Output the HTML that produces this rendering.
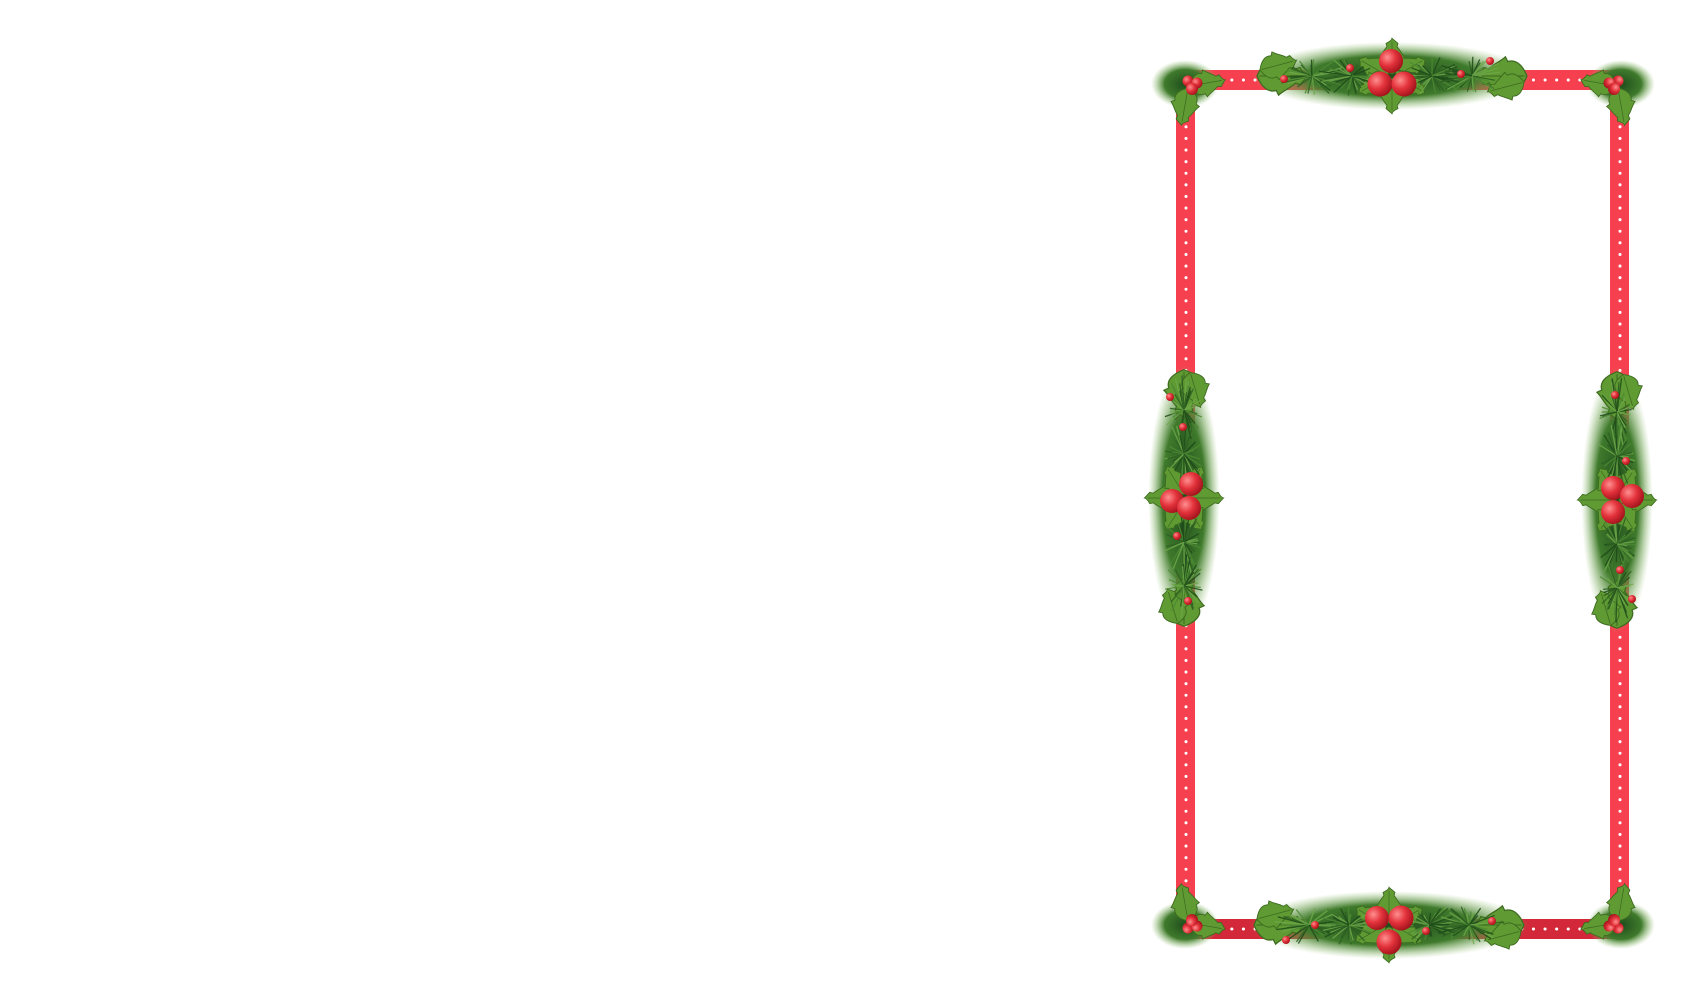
<!DOCTYPE html>
<html><head><meta charset="utf-8"><style>html,body{margin:0;padding:0;background:#fff;width:1700px;height:1000px;overflow:hidden}</style></head>
<body>
<svg id="s" width="1700" height="1000" viewBox="0 0 1700 1000" xmlns="http://www.w3.org/2000/svg">
<defs>
<radialGradient id="b" cx="0.35" cy="0.35" r="0.7"><stop offset="0" stop-color="#ff8f8f"/><stop offset="0.5" stop-color="#e3323b"/><stop offset="1" stop-color="#a0121b"/></radialGradient>
<radialGradient id="g" cx="0.5" cy="0.5" r="0.5"><stop offset="0" stop-color="#1f4d1c"/><stop offset="0.6" stop-color="#3f7a2c"/><stop offset="1" stop-color="#8fbf6a" stop-opacity="0"/></radialGradient>
<g id="leaf"><path d="M0,0 C4,-10 10,-14 16,-12 L18,-16 C22,-12 28,-10 32,-6 L36,-7 C38,-3 40,0 42,0 C40,2 38,5 36,7 L32,6 C28,10 22,12 18,16 L16,12 C10,14 4,10 0,0Z" fill="#5f9a33" stroke="#3d6a1f" stroke-width="1"/><path d="M2,0 L38,0" stroke="#3d6a1f" stroke-width="0.8"/></g>
<g id="hgar">
 <ellipse cx="0" cy="0" rx="140" ry="34" fill="url(#g)"/>
 <use href="#leaf" transform="translate(-135,0) scale(1.2)"/>
 <use href="#leaf" transform="translate(135,0) scale(-1.2,1.2)"/>
 <use href="#leaf" transform="translate(-132,-6) rotate(-15) scale(0.9)"/>
 <use href="#leaf" transform="translate(132,6) rotate(165) scale(0.9)"/>
 <use href="#leaf" transform="translate(0,-2) rotate(-90) scale(0.85)"/>
 <use href="#leaf" transform="translate(0,2) rotate(90) scale(0.85)"/>
 <use href="#leaf" transform="translate(-4,0) rotate(-150) scale(0.8)"/>
 <use href="#leaf" transform="translate(4,0) rotate(-30) scale(0.8)"/>
 <use href="#leaf" transform="translate(-4,0) rotate(150) scale(0.8)"/>
 <use href="#leaf" transform="translate(4,0) rotate(30) scale(0.8)"/>
</g>
<g id="corner">
 <ellipse cx="-5" cy="0" rx="34" ry="24" fill="url(#g)"/>
 <use href="#leaf" transform="translate(0,2) rotate(-10) scale(0.85)"/>
 <use href="#leaf" transform="translate(-2,4) rotate(100) scale(0.9)"/>
 <circle cx="-2" cy="-3" r="5.5" fill="url(#b)"/><circle cx="7" cy="-1" r="5.5" fill="url(#b)"/><circle cx="2" cy="5" r="6" fill="url(#b)"/>
</g>
</defs>
<g fill="#f6404f">
<rect x="1176" y="70" width="453" height="20"/>
<rect x="1176" y="70" width="19" height="869"/>
<rect x="1610" y="70" width="19" height="869"/>
<rect x="1176" y="919" width="453" height="20" fill="#d22839"/>
</g>
<g stroke="#fff" stroke-width="3" stroke-dasharray="0.1 11.5" stroke-linecap="round">
<line x1="1197" y1="80" x2="1608" y2="80"/>
<line x1="1197" y1="929" x2="1608" y2="929"/>
<line x1="1186" y1="92" x2="1186" y2="918"/>
<line x1="1620" y1="92" x2="1620" y2="918"/>
</g>
<use href="#hgar" transform="translate(1392,76)"/>
<use href="#hgar" transform="translate(1389,925)"/>
<use href="#hgar" transform="translate(1184,498) rotate(90) scale(0.95,1.05)"/>
<use href="#hgar" transform="translate(1617,500) rotate(90) scale(0.95,1.05)"/>
<g id="needles" opacity="0.85"></g>
<circle cx="1391" cy="61" r="12" fill="url(#b)"/><circle cx="1380" cy="84" r="12.5" fill="url(#b)"/><circle cx="1404" cy="84" r="12.5" fill="url(#b)"/>
<circle cx="1284" cy="79" r="4" fill="url(#b)"/><circle cx="1350" cy="68" r="4" fill="url(#b)"/><circle cx="1461" cy="74" r="4" fill="url(#b)"/><circle cx="1490" cy="61" r="4" fill="url(#b)"/>
<circle cx="1377" cy="918" r="12" fill="url(#b)"/><circle cx="1401" cy="918" r="12.5" fill="url(#b)"/><circle cx="1389" cy="942" r="12.5" fill="url(#b)"/>
<circle cx="1286" cy="940" r="4" fill="url(#b)"/><circle cx="1315" cy="925" r="4" fill="url(#b)"/><circle cx="1426" cy="931" r="4" fill="url(#b)"/><circle cx="1492" cy="921" r="4" fill="url(#b)"/>
<use href="#corner" transform="translate(1190,84)"/>
<use href="#corner" transform="translate(1616,84) scale(-1,1)"/>
<use href="#corner" transform="translate(1190,925) scale(1,-1)"/>
<use href="#corner" transform="translate(1616,925) scale(-1,-1)"/>
<circle cx="1191" cy="484" r="12" fill="url(#b)"/><circle cx="1172" cy="501" r="12" fill="url(#b)"/><circle cx="1189" cy="508" r="12" fill="url(#b)"/>
<circle cx="1170" cy="397" r="4" fill="url(#b)"/><circle cx="1183" cy="427" r="4" fill="url(#b)"/><circle cx="1177" cy="536" r="4" fill="url(#b)"/><circle cx="1188" cy="601" r="4" fill="url(#b)"/>
<circle cx="1613" cy="488" r="12" fill="url(#b)"/><circle cx="1632" cy="496" r="12" fill="url(#b)"/><circle cx="1613" cy="512" r="12" fill="url(#b)"/>
<circle cx="1615" cy="395" r="4" fill="url(#b)"/><circle cx="1626" cy="461" r="4" fill="url(#b)"/><circle cx="1620" cy="570" r="4" fill="url(#b)"/><circle cx="1632" cy="599" r="4" fill="url(#b)"/>
</svg>
<script>
(function(){
var g=document.getElementById('needles'),ns='http://www.w3.org/2000/svg',seed=7;
function r(){seed=(seed*9301+49297)%233280;return seed/233280;}
var hubs=[];
function hg(cx,cy,v){[-80,-40,40,80].forEach(function(d){hubs.push(v?[cx,cy+d*1.1,36,20]:[cx+d,cy,20,36]);});}
hg(1392,76,0);hg(1389,925,0);hg(1184,498,1);hg(1617,500,1);
hubs.forEach(function(h){for(var i=0;i<40;i++){var a=r()*Math.PI*2,l=0.5+r()*0.5;var l1=document.createElementNS(ns,'line');
l1.setAttribute('x1',h[0]);l1.setAttribute('y1',h[1]);l1.setAttribute('x2',h[0]+Math.cos(a)*h[3]*l);l1.setAttribute('y2',h[1]+Math.sin(a)*h[2]*l);
l1.setAttribute('stroke',['#2d5f22','#4d8a33','#6ea84a','#1e4a19'][i%4]);l1.setAttribute('stroke-width','1.3');g.appendChild(l1);}});
})();
</script>
</body></html>
